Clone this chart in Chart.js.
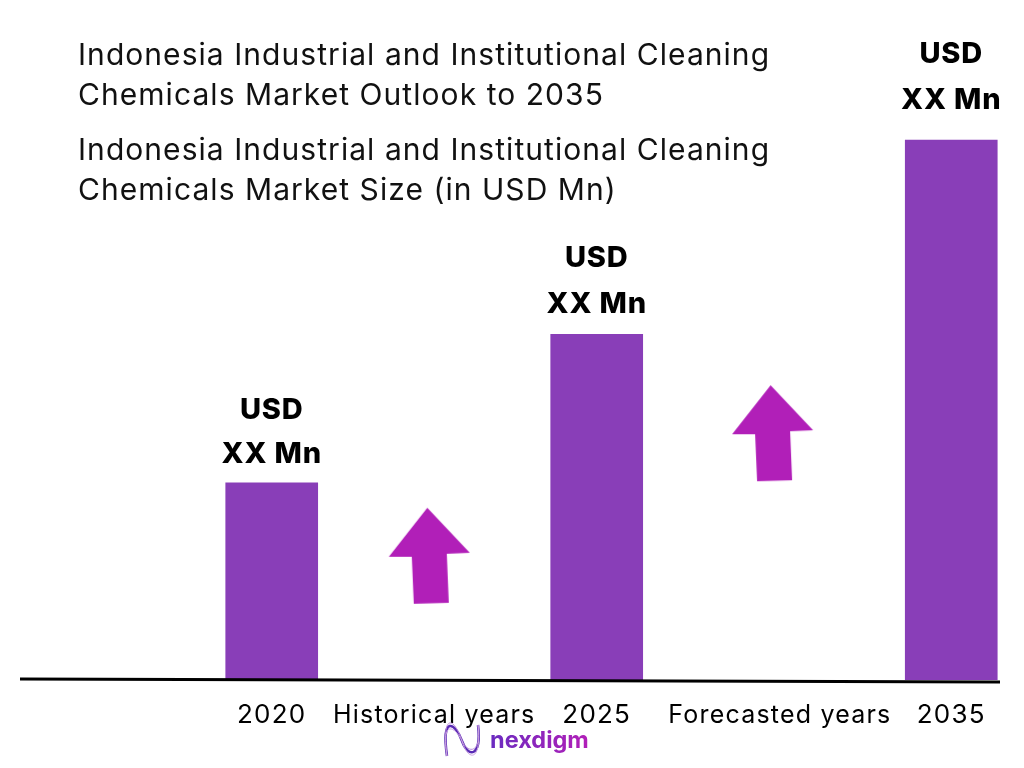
<!DOCTYPE html>
<html>
<head>
<meta charset="utf-8">
<style>
  html, body { margin: 0; padding: 0; background: #fff; }
  canvas { display: block; }
</style>
<script src="https://cdn.jsdelivr.net/npm/chart.js@4/dist/chart.umd.min.js"></script>
</head>
<body>
<canvas id="marketChart" width="1024" height="768"></canvas>
<script>
// Chart data
const categories = ["2020", "2025", "2035"];
const categorySlots = [0, 11, 23];
const marketSize = [36.5, 64, 100];
const valueLine1 = ["USD", "USD", "USD"];
const valueLine2 = ["XX Mn", "XX Mn", "XX Mn"];

const periodLabels = ["Historical years", "Forecasted years"];
const periodSlots = [5.5, 17.2];
const arrowSlots = [5.35, 16.97];
const arrowLevels = [23, 45.7];

const titleLines = [
  "Indonesia Industrial and Institutional Cleaning",
  "Chemicals Market Outlook to 2035",
  "Indonesia Industrial and Institutional Cleaning",
  "Chemicals Market Size (in USD Mn)",
];

const BAR_COLOR = "#893eb8";
const ARROW_COLOR = "#b11fb8";
const FONT = "Inter, sans-serif";

// Arrow marker, slightly tilted like the original
function makeArrow() {
  const c = document.createElement("canvas");
  c.width = 84;
  c.height = 98;
  const g = c.getContext("2d");
  g.fillStyle = ARROW_COLOR;
  g.beginPath();
  g.moveTo(39.5, 1);
  g.lineTo(82, 46);
  g.lineTo(59, 47);
  g.lineTo(61, 96);
  g.lineTo(26, 97);
  g.lineTo(24, 50);
  g.lineTo(1, 50);
  g.closePath();
  g.fill();
  return c;
}

// Titles, baseline, value labels and logo
const decorations = {
  id: "decorations",
  beforeDraw(chart) {
    chart.ctx.letterSpacing = "1.2px";
  },
  afterDatasetsDraw(chart) {
    const ctx = chart.ctx;
    ctx.save();

    // baseline
    ctx.strokeStyle = "#000";
    ctx.lineWidth = 3;
    ctx.beginPath();
    ctx.moveTo(20, 679);
    ctx.lineTo(1000, 682);
    ctx.stroke();

    // titles
    ctx.fillStyle = "#111";
    ctx.letterSpacing = "1.05px";
    ctx.font = "400 30px " + FONT;
    ctx.textAlign = "left";
    ctx.textBaseline = "middle";
    [56, 96, 151, 191].forEach((y, i) => ctx.fillText(titleLines[i], 78, y));

    // value labels above the bars
    ctx.fillStyle = "#000";
    ctx.letterSpacing = "0.8px";
    ctx.font = "800 29px " + FONT;
    ctx.textAlign = "center";
    const gaps1 = [73, 76, 86];
    const gaps2 = [29, 30, 40];
    chart.getDatasetMeta(0).data.forEach((bar, i) => {
      ctx.fillText(valueLine1[i], bar.x, bar.y - gaps1[i]);
      ctx.fillText(valueLine2[i], bar.x, bar.y - gaps2[i]);
    });

    // logo
    const grad = ctx.createLinearGradient(490, 0, 587, 0);
    grad.addColorStop(0, "#6a2bc0");
    grad.addColorStop(1, "#b11fb8");
    ctx.fillStyle = grad;
    ctx.letterSpacing = "0px";
    ctx.font = "700 23.5px " + FONT;
    ctx.textAlign = "left";
    ctx.fillText("nexdigm", 490, 741);

    [[0, "#5a2bb5", 2.5], [-4, "#b88ad8", 1], [4, "#c9a0e0", 1]].forEach(([d, col, w]) => {
      ctx.strokeStyle = col;
      ctx.lineWidth = w;
      ctx.beginPath();
      ctx.moveTo(447, 756);
      ctx.bezierCurveTo(441, 715 + d, 455, 722 + d, 462, 741);
      ctx.bezierCurveTo(468, 758 + d, 482, 758 + d, 478, 725);
      ctx.stroke();
    });
    ctx.restore();
  },
};

new Chart(document.getElementById("marketChart"), {
  data: {
    datasets: [
      {
        type: "bar",
        data: categorySlots.map((s, i) => ({ x: s, y: marketSize[i] })),
        backgroundColor: BAR_COLOR,
        barThickness: 92,
      },
      {
        type: "scatter",
        data: arrowSlots.map((s, i) => ({ x: s, y: arrowLevels[i] })),
        pointStyle: makeArrow(),
      },
    ],
  },
  options: {
    responsive: false,
    animation: false,
    layout: { padding: { left: 20, right: 24, top: 0, bottom: 0 } },
    plugins: { legend: { display: false }, tooltip: { enabled: false }, title: { display: false } },
    scales: {
      x: {
        type: "linear",
        offset: false, // bar datasets switch this on by default
        min: -8.52,
        max: 24.65,
        grid: { display: false },
        border: { display: false },
        afterBuildTicks(scale) {
          scale.ticks = categorySlots.concat(periodSlots).map((value) => ({ value }));
        },
        afterFit(scale) {
          scale.height = 88;
          scale.paddingLeft = 0;
          scale.paddingRight = 0;
        },
        ticks: {
          autoSkip: false,
          maxRotation: 0,
          padding: 12,
          color: "#000",
          font: (c) => ({ family: FONT, size: c.index > 2 ? 25 : 26 }),
          callback(value) {
            const a = categorySlots.indexOf(value);
            if (a >= 0) return categories[a];
            return periodLabels[periodSlots.indexOf(value)];
          },
        },
      },
      y: {
        display: false,
        min: 0,
        max: 125,
        afterFit(scale) {
          scale.width = 0;
        },
      },
    },
  },
  plugins: [decorations],
});
</script>
</body>
</html>
